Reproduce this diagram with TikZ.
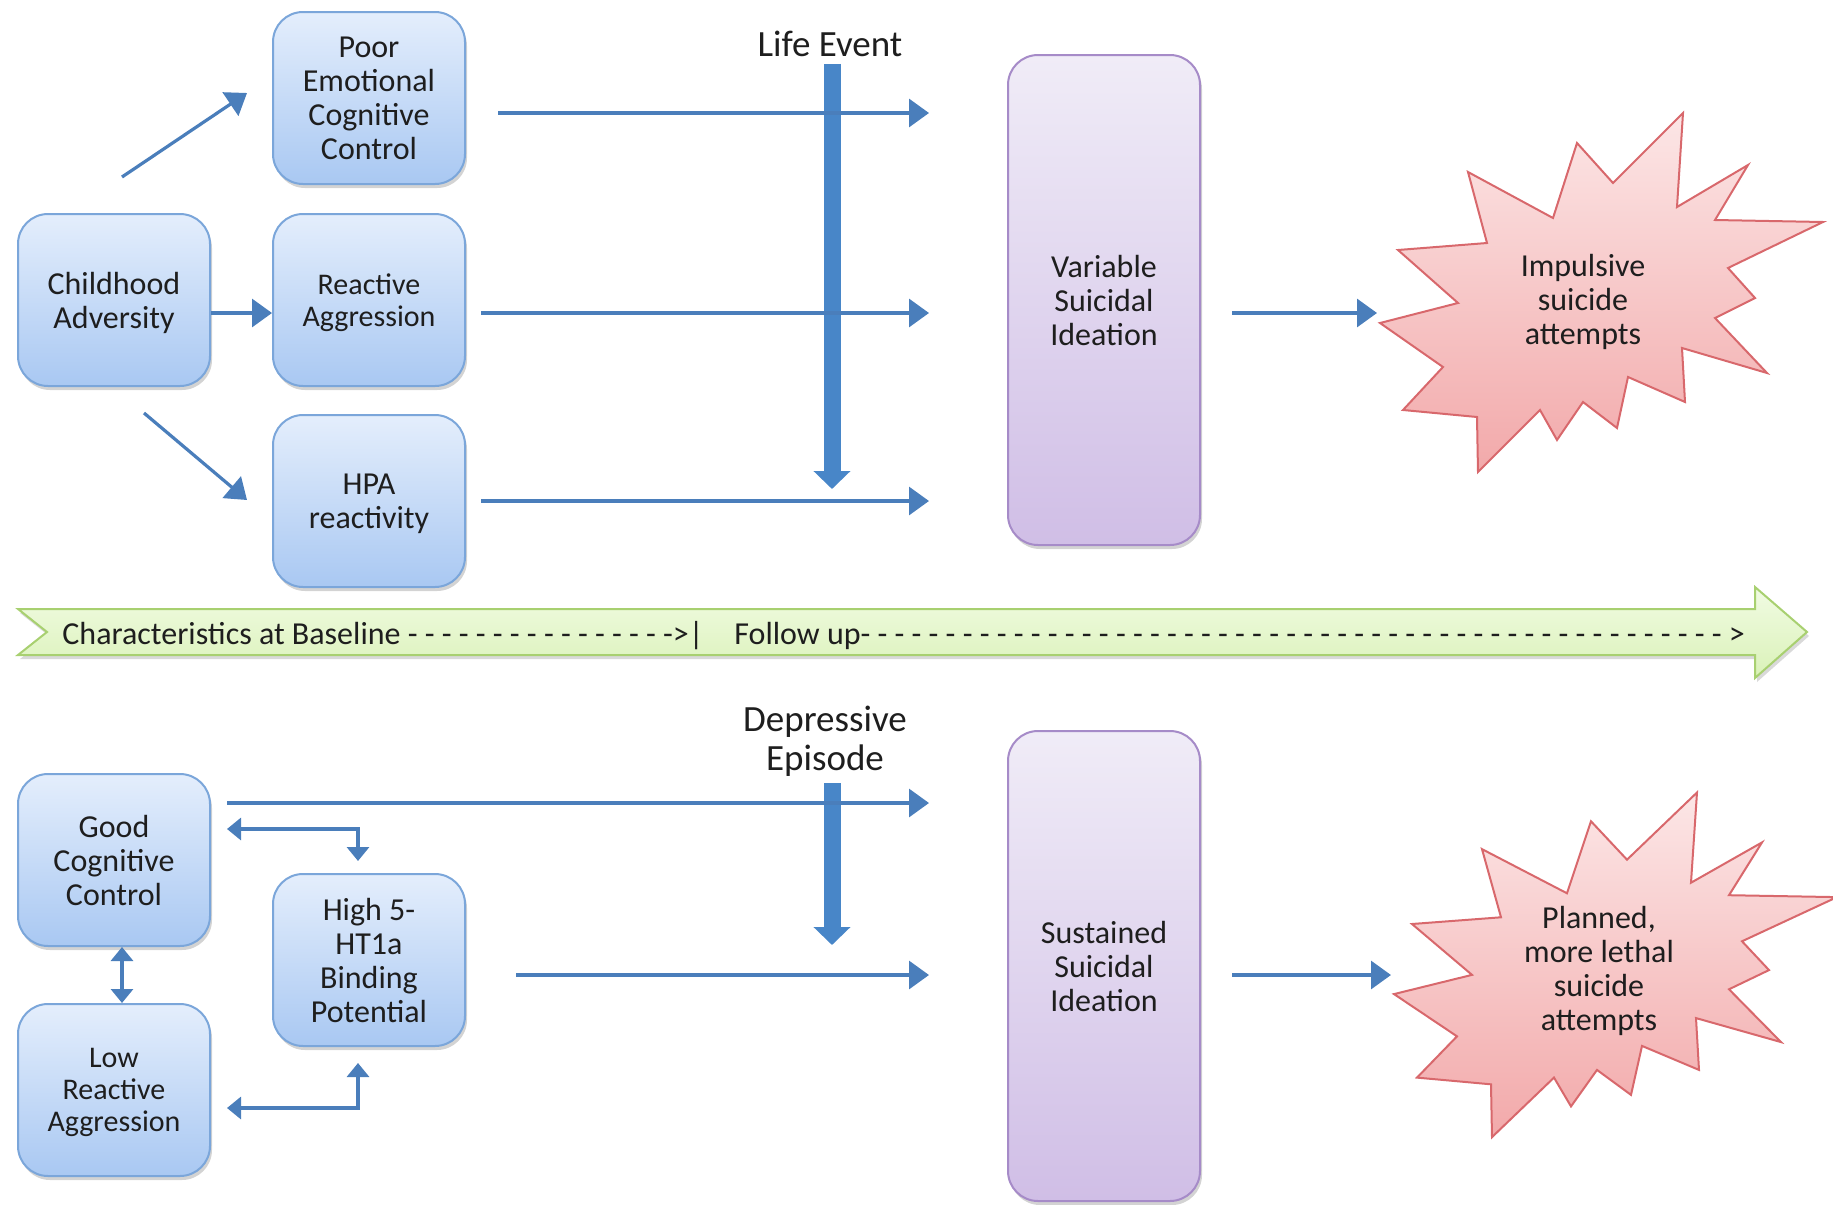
\documentclass[tikz,border=0pt]{standalone}
\usepackage{fontspec}
\setmainfont{Carlito}
\usetikzlibrary{arrows.meta,shadows}

\definecolor{txt}{HTML}{1E1E1E}
\definecolor{linkblue}{HTML}{4A7EBB}
\definecolor{barblue}{HTML}{4886C8}
\definecolor{boxtop}{HTML}{E4EEFC}
\definecolor{boxbot}{HTML}{A9C8F2}
\definecolor{boxline}{HTML}{7BA6DA}
\definecolor{idtop}{HTML}{F0ECF7}
\definecolor{idbot}{HTML}{D0BEE6}
\definecolor{idline}{HTML}{A68BC8}
\definecolor{burtop}{HTML}{FCE6E6}
\definecolor{burbot}{HTML}{F2A9AA}
\definecolor{burline}{HTML}{D8686C}
\definecolor{bantop}{HTML}{F1FBE3}
\definecolor{banbot}{HTML}{DAF2B8}
\definecolor{banline}{HTML}{A8D070}

\tikzset{burst/.pic={
    \path[draw=burline,line width=1pt,top color=burtop,bottom color=burbot]
      (83,-187) -- (77,-93) -- (148,-135) -- (115,-80) -- (223,-78) -- (128,-32) -- (155,-2)
      -- (115,18) -- (167,73) -- (82,48) -- (85,102) -- (28,77) -- (17,128) -- (-17,102)
      -- (-43,140) -- (-60,110) -- (-122,172) -- (-123,117) -- (-197,110) -- (-157,67)
      -- (-220,23) -- (-142,3) -- (-202,-50) -- (-113,-57) -- (-132,-128) -- (-47,-82)
      -- (-23,-157) -- (13,-117) -- cycle;}}

\begin{document}
\begin{tikzpicture}[x=.5pt,y=-.5pt,
    box/.style={draw=boxline,line width=1pt,rounded corners=15pt,top color=boxtop,bottom color=boxbot,
      minimum width=96pt,minimum height=86pt,inner sep=2pt,align=center,text=txt,text depth=0pt,
      font=\fontsize{16}{17}\selectfont,drop shadow={shadow xshift=1pt,shadow yshift=-2pt,opacity=.35}},
    idea/.style={box,draw=idline,top color=idtop,bottom color=idbot},
    link/.style={draw=linkblue,line width=1.6pt,-{Triangle[length=10pt,width=14pt]}},
    pair/.style={draw=linkblue,line width=1.6pt,{Triangle[length=7pt,width=11pt]}-{Triangle[length=7pt,width=11pt]}},
    event/.style={draw=barblue,line width=8.5pt,-{Triangle[length=9pt,width=18pt]}},
    tag/.style={text=txt,align=center,font=\fontsize{18.5}{19.5}\selectfont},
    say/.style={text=txt,align=center,font=\fontsize{16}{17}\selectfont},
    stamp/.style={text=txt,inner sep=0pt,anchor=west,font=\fontsize{16}{17}\selectfont}]
                \useasboundingbox (0,0) rectangle (1833,1205);
                \path[draw=banline,line width=1pt,top color=bantop,bottom color=banbot,
                  drop shadow={shadow xshift=1pt,shadow yshift=-2pt,opacity=.3}]
                  (18,609) -- (1755,609) -- (1755,587) -- (1807,632) -- (1755,678) -- (1755,655) -- (18,655) -- (47,632) -- cycle;
                \node[stamp] (base) at (62,636) {Characteristics at Baseline - - - - - - - - - - - - - - - ->|};
                \node[stamp] (follow) at (734,636) {Follow up- - - - - - - - - - - - - - - - - - - - - - - - - - - - - - - - - - - - - - - - - - - - - - - - - - - >};

                \node[box] (poor) at (369,98) {Poor\\Emotional\\Cognitive\\Control};
                \node[box] (child) at (114,300) {Childhood\\Adversity};
                \node[box,font=\fontsize{15}{16}\selectfont] (react) at (369,300) {Reactive\\Aggression};
                \node[box] (hpa) at (369,501) {HPA\\reactivity};
                \node[idea,minimum height=245pt] (var) at (1104,300) {Variable\\Suicidal\\Ideation};
                \node[tag] (life) at (830,44) {Life Event};

                \node[box] (good) at (114,860) {Good\\Cognitive\\Control};
                \node[box,font=\fontsize{15}{16}\selectfont] (low) at (114,1090) {Low\\Reactive\\Aggression};
                \node[box] (high) at (369,960) {High 5-\\HT1a\\Binding\\Potential};
                \node[idea,minimum height=235pt] (sust) at (1104,966) {Sustained\\Suicidal\\Ideation};
                \node[tag] (depr) at (825,741) {Depressive\\Episode};

                \pic at (1600,300) {burst};
                \pic[yscale=.96] at (1614,972) {burst};
                \node[say] (impulsive) at (1583,302) {Impulsive\\suicide\\attempts};
                \node[say] (planned) at (1599,971) {Planned,\\more lethal\\suicide\\attempts};

                \coordinate (le) at (832,489);
                \coordinate (de) at (832,945);
                \coordinate (e1) at (929,113);
                \coordinate (e2) at (929,313);
                \coordinate (e3) at (929,501);
                \coordinate (e4) at (1377,313);
                \coordinate (e5) at (929,803);
                \coordinate (e6) at (929,975);
                \coordinate (e7) at (1391,975);

                \draw[event] (life.south -| le) -- (le);
                \draw[event] (depr.south -| de) -- (de);

                \draw[link] ([shift={(8,-36)}]child.north) -- ([shift={(-25,-5)}]poor.west);
                \draw[link] ([shift={(0,13)}]child.east) -- ([shift={(0,13)}]react.west);
                \draw[link] ([shift={(30,26)}]child.south) -- ([shift={(-25,-1)}]hpa.west);
                \draw[link] ([shift={(32,15)}]poor.east) -- (e1);
                \draw[link] ([shift={(15,13)}]react.east) -- (e2);
                \draw[link] ([shift={(15,0)}]hpa.east) -- (e3);
                \draw[link] ([shift={(31,13)}]var.east) -- (e4);

                \draw[link] ([shift={(16,-57)}]good.east) -- (e5);
                \draw[pair] ([shift={(16,-31)}]good.east) -| ([shift={(-11,-12)}]high.north);
                \draw[pair] ([shift={(16,18)}]low.east) -| ([shift={(-11,16)}]high.south);
                \draw[pair] ([shift={(8,0)}]good.south) -- ([shift={(8,0)}]low.north);
                \draw[link] ([shift={(50,15)}]high.east) -- (e6);
                \draw[link] ([shift={(31,9)}]sust.east) -- (e7);
            \end{tikzpicture}
\end{document}
